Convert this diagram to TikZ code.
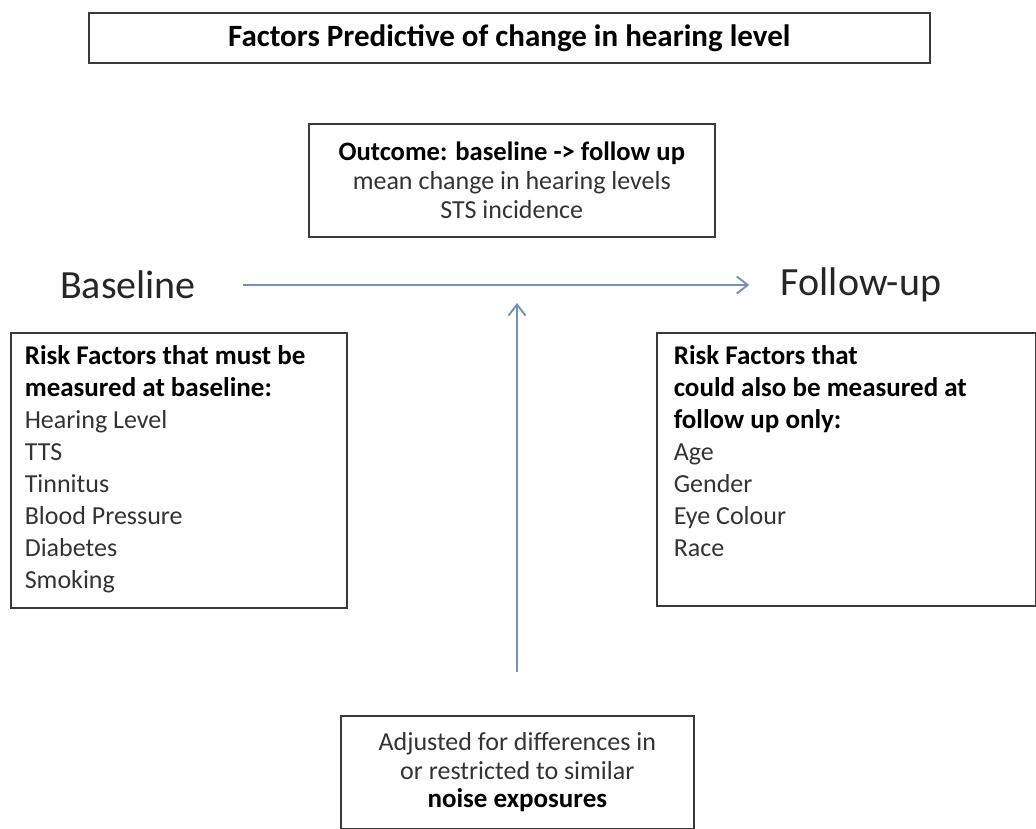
\documentclass[tikz,border=0pt]{standalone}
\usepackage{fontspec}
\setmainfont{Carlito}
\usetikzlibrary{positioning,arrows.meta}

\definecolor{flowblue}{HTML}{7392B8}
\definecolor{boxline}{HTML}{3A3A3A}
\definecolor{txtgray}{HTML}{333333}

\tikzset{
	framebox/.style={draw=boxline, line width=1.6pt, rectangle, inner sep=0pt, anchor=north west},
	listbox/.style={framebox, inner ysep=0pt, align=left, text=txtgray},
	stagelabel/.style={font=\fontsize{40}{44}\selectfont, text=black!85},
	flow/.style={draw=flowblue, line width=1.9pt, -{Straight Barb[length=11pt, width=17pt, line width=1.9pt]}}
}
\newcommand{\headtext}[1]{\textcolor{black}{\fontsize{27}{32}\selectfont\bfseries #1}}

\begin{document}
\begin{tikzpicture}[x=1pt, y=-1pt]
			\useasboundingbox (0,0) rectangle (1036,829);

			% title and outcome
			\node[framebox, minimum width=841pt, minimum height=50pt, font=\fontsize{31}{34}\selectfont\bfseries] (title) at (88,12) {Factors Predictive of change in hearing level};
			\node[framebox, minimum width=406pt, minimum height=113pt, align=center, text=txtgray, font=\fontsize{26}{29}\selectfont] (outcome) at (308,123)
				{\textcolor{black}{\fontsize{26.6}{29}\selectfont\bfseries Outcome: baseline -> follow up}\\ mean change in hearing levels\\ STS incidence};

			% the two time points
			\node[stagelabel] (base) at (128,285) {Baseline};
			\node[stagelabel] (follow) at (861,285) {Follow-up};

			% risk factor lists
			\node[listbox, inner xsep=14pt] (riskbase) at (10,332)
				{\parbox[t][275pt][t]{308pt}{\fontsize{26}{32}\selectfont\vspace{13pt}%
				\headtext{Risk Factors that must be\\ measured at baseline:}\\
				Hearing Level\\ TTS\\ Tinnitus\\ Blood Pressure\\ Diabetes\\ Smoking}};
			\node[listbox, inner xsep=17pt] (riskfollow) at (656,332)
				{\parbox[t][273pt][t]{345pt}{\fontsize{26}{32}\selectfont\vspace{13pt}%
				\headtext{Risk Factors that\\ could also be measured at\\ follow up only:}\\
				Age\\ Gender\\ Eye Colour\\ Race}};

			% exposure adjustment
			\node[framebox, minimum width=353pt, minimum height=113pt, align=center, text=txtgray, font=\fontsize{26}{28.5}\selectfont] (adjust) at (340,715)
				{Adjusted for differences in\\ or restricted to similar\\ \textcolor{black}{\fontsize{27}{28.5}\selectfont\bfseries noise exposures}};

			\coordinate (join) at (517,303);

			\draw[flow, shorten <=44pt, shorten >=28pt] (base.east) -- (follow.west);
			\draw[flow, shorten <=43pt] (adjust.north -| join) -- (join);
		\end{tikzpicture}
\end{document}
